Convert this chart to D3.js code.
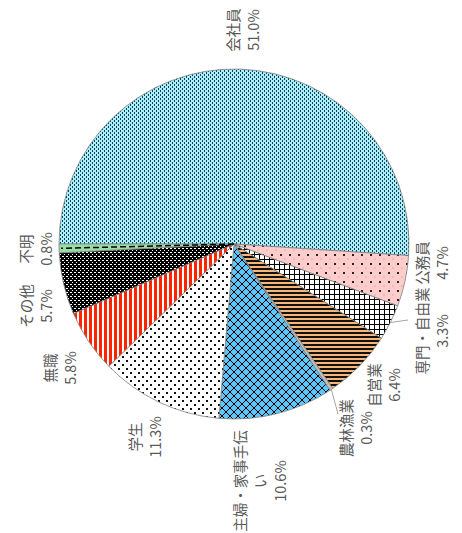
<!DOCTYPE html>
<html><head><meta charset="utf-8">
<script src="https://cdn.jsdelivr.net/npm/d3@7"></script>
<style>body{margin:0;background:#fff}svg{display:block}</style>
</head><body>
<svg id="c" width="462" height="533"></svg>
<script>
const categories = ["会社員","公務員","専門・自由業","自営業","農林漁業","主婦・家事手伝い","学生","無職","その他","不明"];
const values = [51.0,4.7,3.3,6.4,0.3,10.6,11.3,5.8,5.7,0.8];
const labelLines = [["会社員","51.0%"],["公務員","4.7%"],["専門・自由業","3.3%"],["自営業","6.4%"],["農林漁業","0.3%"],["主婦・家事手伝","い","10.6%"],["学生","11.3%"],["無職","5.8%"],["その他","5.7%"],["不明","0.8%"]];
// label layout (screen coords of first line, rotated text)
const labelLayout = [[232,30],[421,263],[421,331],[373,385],[345,428],[239,481],[134,437],[49,368],[25,306],[25,249]];
const lineGap = 20;

const svg = d3.select("#c");
const defs = svg.append("defs");
const cx = 234, cy = 244, R = 175;

function pat(id, w, h, bg, draw){
  const p = defs.append("pattern").attr("id",id).attr("patternUnits","userSpaceOnUse").attr("width",w).attr("height",h);
  p.append("rect").attr("width",w).attr("height",h).attr("fill",bg);
  draw(p);
}
pat("p0",4,4,"#a6efff",p=>{p.append("rect").attr("x",0).attr("y",0).attr("width",1).attr("height",2).attr("fill","#1e3c48");p.append("rect").attr("x",2).attr("y",2).attr("width",1).attr("height",2).attr("fill","#1e3c48");});
pat("p1",9,9,"#ffcccc",p=>{p.append("rect").attr("x",1).attr("y",1).attr("width",2).attr("height",2).attr("fill","#222");p.append("rect").attr("x",5.5).attr("y",5.5).attr("width",1).attr("height",1).attr("fill","#999");});
pat("p2",5,5,"#ffffff",p=>{p.append("path").attr("d","M0,0.5H5M0.5,0V5").attr("stroke","#000").attr("stroke-width",1);});
pat("p3",4,4,"#f5b678",p=>{p.append("rect").attr("x",0).attr("y",0).attr("width",4).attr("height",2).attr("fill","#111");});
pat("p5",8,8,"#5ec6f8",p=>{p.append("path").attr("d","M0,0L8,8M8,0L0,8M-1,7L1,9M7,-1L9,1").attr("stroke","#000").attr("stroke-width",1);});
pat("p6",8,8,"#ffffff",p=>{p.append("rect").attr("x",0).attr("y",0).attr("width",2).attr("height",2).attr("fill","#111");p.append("rect").attr("x",4).attr("y",4).attr("width",2).attr("height",2).attr("fill","#111");});
pat("p7",5,5,"#ff2400",p=>{p.append("rect").attr("x",3).attr("y",0).attr("width",2).attr("height",5).attr("fill","#fff");});
pat("p8",4,4,"#000000",p=>{p.append("rect").attr("x",0).attr("y",0).attr("width",2).attr("height",1).attr("fill","#fff");p.append("rect").attr("x",2).attr("y",2).attr("width",1).attr("height",1).attr("fill","#fff");});
const fills = ["url(#p0)","url(#p1)","url(#p2)","url(#p3)","#bfbfbf","url(#p5)","url(#p6)","url(#p7)","url(#p8)","#99dea6"];

const pie = d3.pie().sort(null).value(d=>d).startAngle(-Math.PI/2).endAngle(1.5*Math.PI);
const arcs = pie(values);
const arc = d3.arc().innerRadius(0).outerRadius(R);
const g = svg.append("g").attr("transform",`translate(${cx},${cy})`);
g.selectAll("path.s").data(arcs).join("path").attr("class","s")
  .attr("d",arc).attr("fill",(d,i)=>fills[i]).attr("stroke","#808080").attr("stroke-width",0.8);

// dashed line in 不明
const a9 = (arcs[9].startAngle+arcs[9].endAngle)/2;
g.append("line").attr("x1",0).attr("y1",0).attr("x2",(R-2)*Math.sin(a9)).attr("y2",-(R-2)*Math.cos(a9))
  .attr("stroke","#000").attr("stroke-width",1.5).attr("stroke-dasharray","6,3");

// leader lines
function leader(i, ex, ey){
  const a=(arcs[i].startAngle+arcs[i].endAngle)/2;
  svg.append("line").attr("x1",cx+R*Math.sin(a)).attr("y1",cy-R*Math.cos(a)).attr("x2",ex).attr("y2",ey)
    .attr("stroke","#a6a6a6").attr("stroke-width",1);
}
leader(2,408,320);
leader(4,338,414);

const lab = svg.append("g").attr("font-family","'Noto Sans CJK JP','Noto Sans',sans-serif").attr("font-size",14.5).attr("fill","#595959");
labelLines.forEach((lines,i)=>{
  const [x,y]=labelLayout[i];
  const t = lab.append("g").attr("transform",`translate(${x},${y}) rotate(-90)`);
  lines.forEach((s,j)=>{
    t.append("text").attr("x",0).attr("y",j*lineGap).attr("text-anchor","middle").attr("dominant-baseline","central").text(s);
  });
});
</script>
</body></html>
